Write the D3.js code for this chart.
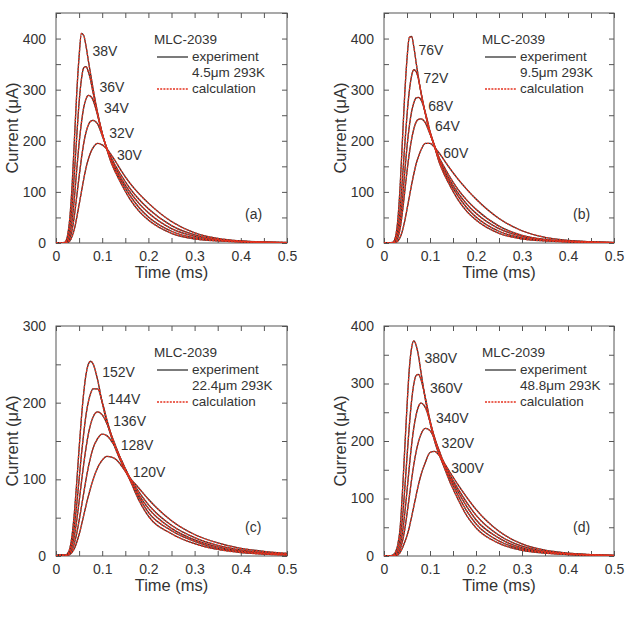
<!DOCTYPE html>
<html lang="en">
<head>
	<meta charset="utf-8">
	<title>MLC-2039 transient currents</title>
	<script src="https://d3js.org/d3.v7.min.js"></script>
	<style type="text/css">
		body { margin: 0; background: #fff; }
		.axis path { display: none; }
		.axis line { stroke: #555; stroke-width: 1; }
		.axis text {
			font-family: "Liberation Sans", Arial, sans-serif;
			font-size: 14px;
			fill: #333;
		}
		.lab {
			font-family: "Liberation Sans", Arial, sans-serif;
			fill: #333;
		}
	</style>
</head>
<body>
<script type="text/javascript">

	// Time grid (ms), shared by all curves
	var times = [0, 0.01, 0.015, 0.02, 0.025, 0.03, 0.035, 0.04, 0.045, 0.05, 0.055, 0.06, 0.065, 0.07, 0.075,
	             0.08, 0.09, 0.1, 0.11, 0.12, 0.13, 0.14, 0.16, 0.18, 0.2, 0.25, 0.3, 0.35, 0.4, 0.45, 0.5];

	// (a) 4.5um
	var voltsA = ["38V", "36V", "34V", "32V", "30V"];
	var currentA = [
		[0, 0, 0.5, 2, 15, 50, 115, 205, 295, 365, 410, 406, 385, 357, 330, 303, 255, 215, 184, 156, 136, 118, 86, 62, 45, 19, 8, 4, 2, 1, 0.5],
		[0, 0, 0.3, 1, 8, 30, 75, 140, 210, 275, 320, 343, 345, 335, 318, 295, 252, 214, 184, 159, 139, 123, 93, 69, 51, 23, 10, 5, 2.4, 1.2, 0.6],
		[0, 0, 0.2, 0.5, 4, 17, 45, 90, 145, 195, 235, 265, 282, 289, 287, 280, 250, 214, 185, 162, 144, 128, 100, 77, 59, 28, 13, 6, 3, 1.4, 0.7],
		[0, 0, 0, 0, 2, 9, 26, 55, 92, 130, 165, 195, 217, 231, 238, 240, 233, 210, 186, 166, 149, 134, 107, 85, 67, 34, 16, 7, 3.5, 1.7, 0.8],
		[0, 0, 0, 0, 1, 4, 13, 28, 50, 75, 100, 125, 147, 164, 177, 186, 195, 192, 184, 172, 158, 143, 117, 96, 78, 42, 20, 9, 4, 2, 1]
	];
	var labelTA = [0.079, 0.094, 0.104, 0.115, 0.132];
	var labelIA = [365, 296, 255, 206, 163];

	// (b) 9.5um
	var voltsB = ["76V", "72V", "68V", "64V", "60V"];
	var currentB = [
		[0, 0, 0.5, 2, 12, 45, 110, 200, 290, 360, 402, 404, 383, 352, 323, 296, 252, 216, 188, 158, 136, 118, 86, 62, 45, 19, 8, 4, 2, 1, 0.5],
		[0, 0, 0.3, 1, 7, 26, 65, 125, 190, 250, 297, 327, 339, 335, 320, 297, 253, 216, 188, 161, 140, 123, 93, 69, 51, 23, 10, 5, 2.4, 1.2, 0.6],
		[0, 0, 0.2, 0.5, 4, 16, 42, 85, 138, 188, 228, 257, 275, 284, 285, 281, 255, 219, 190, 164, 145, 128, 99, 76, 58, 28, 13, 6, 3, 1.5, 0.7],
		[0, 0, 0, 0, 2, 10, 28, 60, 100, 140, 175, 203, 224, 237, 242, 243, 235, 213, 190, 167, 150, 134, 106, 84, 66, 33, 15, 7, 3.5, 1.7, 0.8],
		[0, 0, 0, 0, 1, 4, 11, 24, 43, 66, 90, 114, 136, 155, 169, 181, 195, 195, 187, 176, 163, 150, 126, 105, 86, 48, 24, 11, 5, 2.5, 1.2]
	];
	var labelTB = [0.075, 0.086, 0.096, 0.111, 0.129];
	var labelIB = [367, 314, 259, 220, 167];

	// (c) 22.4um
	var voltsC = ["152V", "144V", "136V", "128V", "120V"];
	var currentC = [
		[0, 1.5, 1, 1, 3, 10, 28, 58, 97, 140, 180, 213, 237, 250, 254, 251, 230, 200, 175, 155, 138, 124, 99, 72, 52, 29, 16, 8.5, 4.5, 2.4, 1.2],
		[0, 1.5, 1, 1, 2, 7, 19, 40, 68, 100, 132, 160, 184, 201, 212, 218, 218, 201, 178, 157, 140, 125, 100, 76, 57, 33, 19, 10, 5.5, 3, 1.5],
		[0, 1.5, 1, 0.5, 1.5, 5, 13, 27, 47, 71, 96, 120, 141, 159, 172, 181, 188, 184, 173, 158, 142, 127, 101, 79, 62, 36, 21, 12, 6.5, 3.5, 2],
		[0, 1.5, 1, 0.5, 1, 3, 8, 17, 30, 46, 64, 82, 100, 116, 129, 140, 153, 159, 157, 150, 140, 127, 102, 83, 67, 40, 24, 14, 8, 4.5, 2.5],
		[0, 1.5, 1, 0.5, 1, 2, 5, 10, 18, 28, 40, 53, 66, 78, 89, 99, 115, 125, 130, 129, 126, 119, 102, 88, 74, 46, 28, 17, 10, 6, 3.5]
	];
	var labelTC = [0.100, 0.112, 0.124, 0.140, 0.166];
	var labelIC = [233, 198, 170, 138, 103];

	// (d) 48.8um
	var voltsD = ["380V", "360V", "340V", "320V", "300V"];
	var currentD = [
		[0, 0, 0.5, 2, 7, 20, 48, 110, 185, 260, 325, 362, 374, 366, 348, 322, 272, 232, 200, 176, 156, 135, 100, 70, 49, 22, 10, 5, 2.5, 1.2, 0.6],
		[0, 0, 0.3, 1, 4, 12, 30, 65, 115, 172, 226, 270, 300, 314, 316, 308, 275, 236, 203, 178, 158, 140, 107, 78, 56, 26, 12, 6, 3, 1.5, 0.7],
		[0, 0, 0.2, 0.5, 2, 7, 18, 40, 73, 113, 155, 193, 224, 246, 260, 266, 258, 234, 206, 181, 160, 143, 113, 86, 63, 31, 14, 7, 3.5, 1.7, 0.8],
		[0, 0, 0, 0, 1, 4, 11, 25, 46, 73, 103, 133, 160, 182, 199, 211, 222, 218, 203, 183, 163, 146, 118, 93, 71, 36, 17, 8, 4, 2, 1],
		[0, 0, 0, 0, 0.5, 2, 6, 14, 24, 35, 50, 68, 87, 106, 124, 140, 163, 180, 182, 175, 163, 150, 125, 102, 81, 43, 21, 10, 5, 2.5, 1.2]
	];
	var labelTD = [0.088, 0.100, 0.113, 0.125, 0.146];
	var labelID = [336, 283, 231, 188, 144];

	var sampleNames = ["4.5\u03bcm 293K", "9.5\u03bcm 293K", "22.4\u03bcm 293K", "48.8\u03bcm 293K"];
	var panelTags = ["(a)", "(b)", "(c)", "(d)"];
	var yMaxes = [450, 450, 300, 400];

	var panels = [
		{left: 56,  top: 13,  w: 231, h: 230, volts: voltsA, cur: currentA, lt: labelTA, li: labelIA},
		{left: 384, top: 13,  w: 230, h: 230, volts: voltsB, cur: currentB, lt: labelTB, li: labelIB},
		{left: 56,  top: 326, w: 231, h: 230, volts: voltsC, cur: currentC, lt: labelTC, li: labelIC},
		{left: 384, top: 326, w: 230, h: 230, volts: voltsD, cur: currentD, lt: labelTD, li: labelID}
	];

	var svg = d3.select("body")
				.append("svg")
				.attr("width", 631)
				.attr("height", 624);

	var expColor = "#333";
	var calcColor = "#e5321f";

	panels.forEach(function(p, k) {

		var g = svg.append("g")
				   .attr("transform", "translate(" + p.left + "," + p.top + ")");

		var xScale = d3.scaleLinear().domain([0, 0.5]).range([0, p.w]);
		var yScale = d3.scaleLinear().domain([0, yMaxes[k]]).range([p.h, 0]);

		var xTicks = d3.range(0, 11).map(function(i) { return i * 0.05; });
		var yTicks = d3.range(0, yMaxes[k] / 50 + 1).map(function(i) { return i * 50; });

		var xFmt = function(d) {
			var n = Math.round(d * 100);
			if (n % 10 != 0) return "";
			return n == 0 ? "0" : d3.format(".1f")(d);
		};
		var yFmt = function(d) { return d % 100 == 0 ? d : ""; };

		// axes: ticks inward on all four sides
		g.append("g").attr("class", "axis")
		 .attr("transform", "translate(0," + p.h + ")")
		 .call(d3.axisBottom(xScale).tickValues(xTicks).tickSize(-5).tickPadding(8).tickFormat(xFmt));
		g.append("g").attr("class", "axis")
		 .call(d3.axisTop(xScale).tickValues(xTicks).tickSize(-5).tickFormat(""));
		g.append("g").attr("class", "axis")
		 .call(d3.axisLeft(yScale).tickValues(yTicks).tickSize(-5).tickPadding(10).tickFormat(yFmt));
		g.append("g").attr("class", "axis")
		 .attr("transform", "translate(" + p.w + ",0)")
		 .call(d3.axisRight(yScale).tickValues(yTicks).tickSize(-5).tickFormat(""));

		// frame
		g.append("rect")
		 .attr("width", p.w).attr("height", p.h)
		 .attr("fill", "none").attr("stroke", "#555").attr("stroke-width", 1);

		// axis titles
		g.append("text").attr("class", "lab")
		 .attr("x", p.w / 2).attr("y", p.h + 35)
		 .attr("text-anchor", "middle").attr("font-size", 16.5)
		 .text("Time (ms)");
		g.append("text").attr("class", "lab")
		 .attr("transform", "translate(-38," + (p.h / 2) + ") rotate(-90)")
		 .attr("text-anchor", "middle").attr("font-size", 16.5)
		 .text("Current (\u03bcA)");

		// curves
		var line = d3.line()
					 .x(function(d, i) { return xScale(times[i]); })
					 .y(function(d) { return yScale(d); })
					 .curve(d3.curveMonotoneX);

		var clip = "clip" + k;
		g.append("clipPath").attr("id", clip)
		 .append("rect").attr("width", p.w).attr("height", p.h);

		var curves = g.append("g").attr("clip-path", "url(#" + clip + ")");

		curves.selectAll("path.exp")
			  .data(p.cur)
			  .enter()
			  .append("path")
			  .attr("class", "exp")
			  .attr("d", line)
			  .attr("fill", "none")
			  .attr("stroke", expColor)
			  .attr("stroke-width", 1.3);

		curves.selectAll("path.calc")
			  .data(p.cur)
			  .enter()
			  .append("path")
			  .attr("class", "calc")
			  .attr("d", line)
			  .attr("fill", "none")
			  .attr("stroke", calcColor)
			  .attr("stroke-width", 1.3)
			  .attr("stroke-dasharray", "2,1.2");

		// voltage labels
		g.selectAll("text.volt")
		 .data(p.volts)
		 .enter()
		 .append("text")
		 .attr("class", "lab volt")
		 .attr("x", function(d, i) { return xScale(p.lt[i]); })
		 .attr("y", function(d, i) { return yScale(p.li[i]); })
		 .attr("font-size", 14)
		 .text(function(d) { return d; });

		// legend
		var lg = g.append("g").attr("transform", "translate(98,0)");
		lg.append("text").attr("class", "lab").attr("x", 0).attr("y", 31)
		  .attr("font-size", 13.5).text("MLC-2039");
		lg.append("line").attr("x1", 3).attr("x2", 34).attr("y1", 44).attr("y2", 44)
		  .attr("stroke", expColor).attr("stroke-width", 1.3);
		lg.append("text").attr("class", "lab").attr("x", 38).attr("y", 48)
		  .attr("font-size", 13.5).text("experiment");
		lg.append("text").attr("class", "lab").attr("x", 38).attr("y", 64)
		  .attr("font-size", 13.5).text(sampleNames[k]);
		lg.append("line").attr("x1", 3).attr("x2", 34).attr("y1", 76).attr("y2", 76)
		  .attr("stroke", calcColor).attr("stroke-width", 1.3).attr("stroke-dasharray", "2,1.2");
		lg.append("text").attr("class", "lab").attr("x", 38).attr("y", 80)
		  .attr("font-size", 13.5).text("calculation");

		// panel tag
		g.append("text").attr("class", "lab")
		 .attr("x", 189).attr("y", 206)
		 .attr("font-size", 14)
		 .text(panelTags[k]);
	});

</script>
</body>
</html>
